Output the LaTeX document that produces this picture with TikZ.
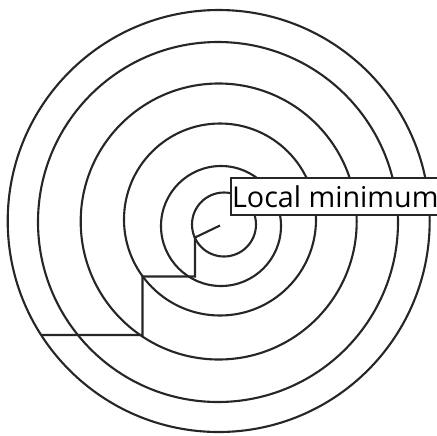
\documentclass[tikz,border=0pt]{standalone}
\usepackage{fontspec}
\setsansfont{Open Sans}
\tikzset{
  %% contour ring
  ring/.style={draw=black!85, line width=1.8pt},
  %% descent path
  walk/.style={draw=black!85, line width=1.8pt, line join=miter},
  %% label box
  tag/.style={
    draw=black!85, line width=1.5pt, fill=white,
    font=\fontsize{24.5}{28}\selectfont\sffamily,
    inner xsep=1pt, inner ysep=0pt,
    minimum width=6.18cm, minimum height=1.11cm, anchor=west
  }
}

\begin{document}
\begin{tikzpicture}[x=0.03cm, y=-0.03cm]

\useasboundingbox (0,0) rectangle (437,435);

% ════════════════════════════════════════════════════════════
% CONTOURS
% ════════════════════════════════════════════════════════════
\foreach \cx/\cy/\r in {224/224.5/32, 221/226/60, 220/219.5/96,
                        218.7/221.5/138, 218/222/180, 218.7/221/211}
  \draw[ring] (\cx,\cy) circle[radius=\r];

% ════════════════════════════════════════════════════════════
% DESCENT STEPS
% ════════════════════════════════════════════════════════════
\coordinate (p0) at (220,225.5);
\coordinate (p1) at (195,237.5);
\coordinate (p2) at (195,276.5);
\coordinate (p3) at (142.5,276.5);
\coordinate (p4) at (142.5,335);
\coordinate (p5) at (41.7,335);

\draw[walk] (p0) -- (p1) -- (p2) -- (p3) -- (p4) -- (p5);

% ════════════════════════════════════════════════════════════
% LABEL
% ════════════════════════════════════════════════════════════
\node[tag] (lbl) at (230,196.5) {Local minimum};

\end{tikzpicture}
\end{document}
